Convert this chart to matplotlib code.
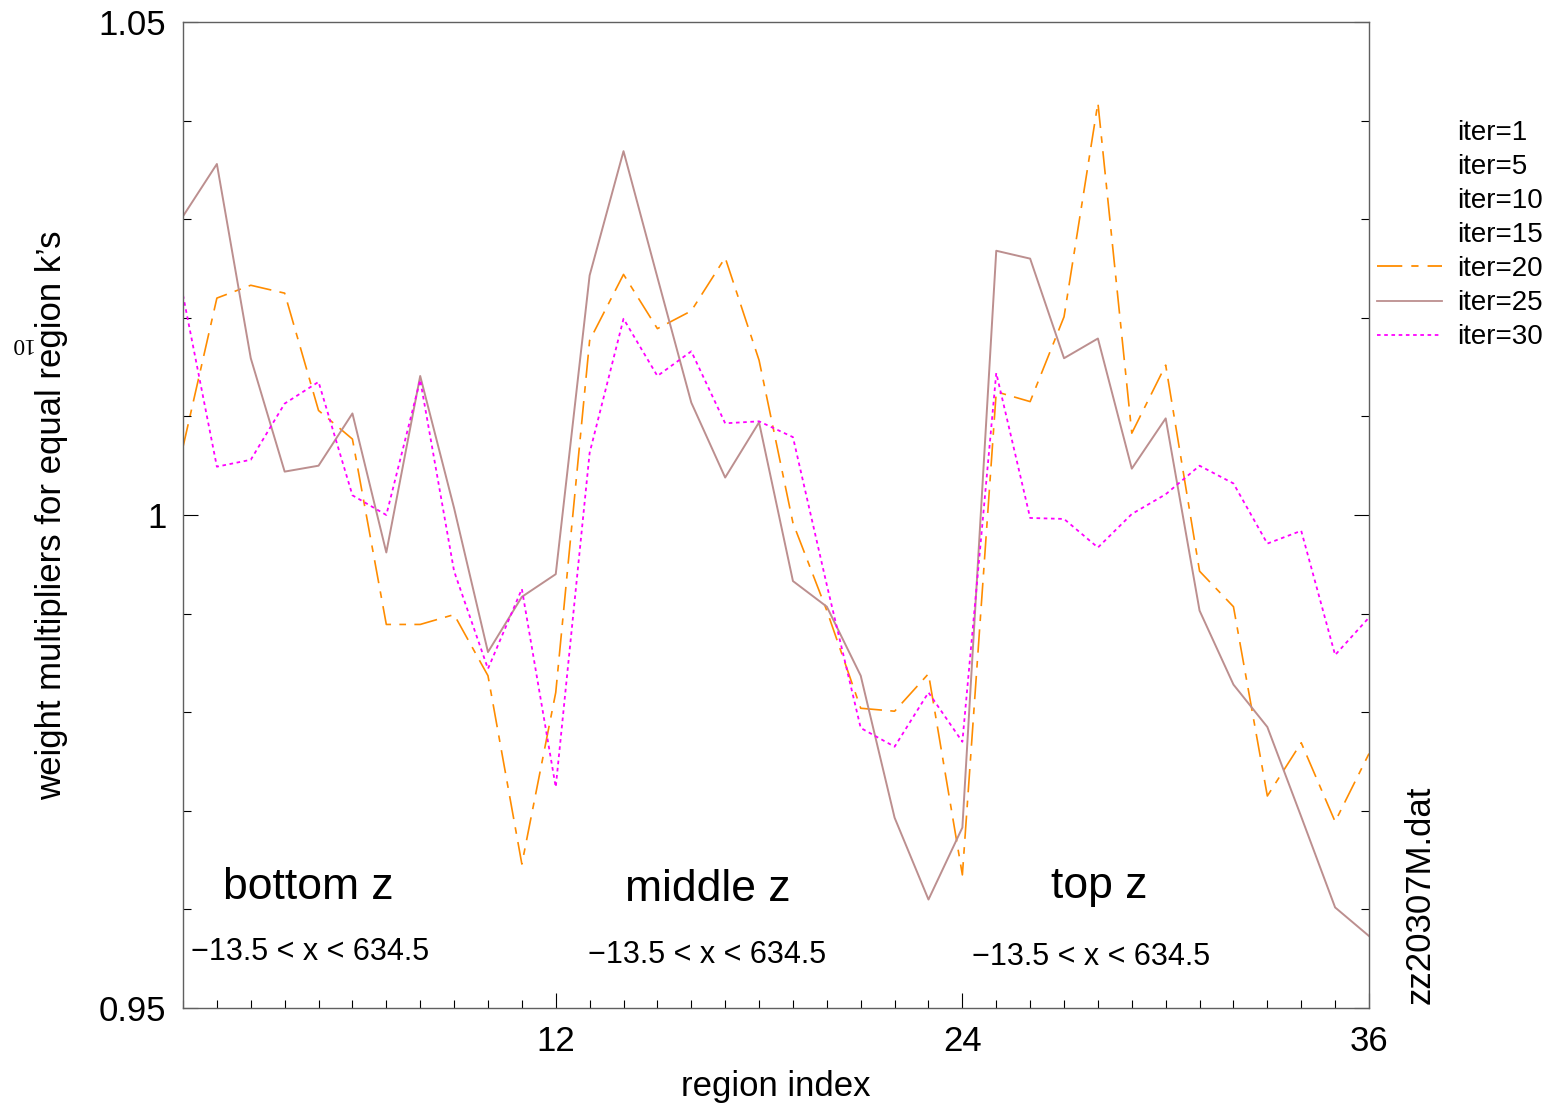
#!/usr/bin/env python3
import matplotlib
matplotlib.use("Agg")
import matplotlib.pyplot as plt
from matplotlib.lines import Line2D as line
from matplotlib.ticker import MultipleLocator, FixedLocator

# region index 1..36 (bottom z / middle z / top z, 12 regions each)
region = list(range(1, 37))

iter20 = [1.0069, 1.0220, 1.0233, 1.0225, 1.0106, 1.0077, 0.9889, 0.9889, 0.9899, 0.9837,
          0.9646, 0.9820, 1.0177, 1.0244, 1.0189, 1.0207, 1.0261, 1.0157, 0.9992, 0.9903,
          0.9804, 0.9801, 0.9839, 0.9635, 1.0125, 1.0115, 1.0201, 1.0418, 1.0083, 1.0152,
          0.9943, 0.9907, 0.9715, 0.9769, 0.9689, 0.9758]

iter25 = [1.0303, 1.0356, 1.0159, 1.0044, 1.0050, 1.0103, 0.9962, 1.0141, 1.0007, 0.9861,
          0.9917, 0.9940, 1.0243, 1.0369, 1.0241, 1.0114, 1.0038, 1.0094, 0.9933, 0.9907,
          0.9837, 0.9693, 0.9610, 0.9683, 1.0268, 1.0260, 1.0159, 1.0179, 1.0047, 1.0098,
          0.9903, 0.9828, 0.9785, 0.9694, 0.9602, 0.9573]

iter30 = [1.0223, 1.0049, 1.0056, 1.0113, 1.0135, 1.0020, 1.0000, 1.0137, 0.9943, 0.9844,
          0.9925, 0.9724, 1.0063, 1.0199, 1.0141, 1.0166, 1.0093, 1.0095, 1.0079, 0.9929,
          0.9784, 0.9765, 0.9820, 0.9770, 1.0144, 0.9997, 0.9996, 0.9967, 1.0001, 1.0021,
          1.0050, 1.0032, 0.9971, 0.9984, 0.9858, 0.9896]

legend_labels = ["iter=1", "iter=5", "iter=10", "iter=15", "iter=20", "iter=25", "iter=30"]

zone_names = ["bottom z", "middle z", "top z"]
zone_x = [4.7, 16.5, 28.05]
zone_y = [0.9622, 0.9620, 0.9623]
range_text = "\u221213.5 < x < 634.5"
range_x = [4.76, 16.46, 27.8]
range_y = [0.9557, 0.9554, 0.9552]


def main():
	plt.rcParams['font.family'] = ['Liberation Sans', 'DejaVu Sans']

	fig = plt.figure(figsize=(15.5, 11.07), dpi=100)
	ax = fig.add_axes([183/1550, 1-1008/1107, (1369-183)/1550, (1008-22)/1107])

	# de tre kurvene som faktisk er synlige
	ax.plot(region, iter20, color='#ff8c00', lw=1.2, linestyle=(0, (14, 5, 4, 5)))
	ax.plot(region, iter25, color='#bc8f8f', lw=1.4, linestyle='-')
	ax.plot(region, iter30, color='#ff00ff', lw=1.3, linestyle=(0, (2, 2)))

	ax.set_xlim(1, 36)
	ax.set_ylim(0.95, 1.05)

	ax.xaxis.set_major_locator(FixedLocator([12, 24, 36]))
	ax.xaxis.set_minor_locator(MultipleLocator(1))
	ax.yaxis.set_major_locator(FixedLocator([0.95, 1.0, 1.05]))
	ax.yaxis.set_minor_locator(MultipleLocator(0.01))
	ax.set_yticklabels(["0.95", "1", "1.05"])

	ax.tick_params(axis='both', which='both', direction='in', color='black', width=0.8)
	ax.tick_params(axis='both', which='major', length=11, labelsize=25, pad=12)
	ax.tick_params(axis='both', which='minor', length=6)
	ax.tick_params(axis='y', which='both', right=True)
	ax.tick_params(axis='x', which='both', top=False)

	for s in ax.spines.values():
		s.set_color('#606060')
		s.set_linewidth(1.0)

	ax.set_xlabel("region index", fontsize=25, labelpad=9)
	ax.set_ylabel("weight multipliers for equal region k\u2019s", fontsize=25, labelpad=22)
	# den rare "10"-en ved y-aksen, opp ned
	fig.text(20/1550, 1-344/1107, "10", rotation=180, fontsize=17, family='Liberation Serif',
		ha='center', va='center')

	for name, x, y in zip(zone_names, zone_x, zone_y):
		ax.text(x, y, name, fontsize=32, ha='center', va='center')
	for x, y in zip(range_x, range_y):
		ax.text(x, y, range_text, fontsize=22, ha='center', va='center')

	fig.text(1420/1550, 1-895/1107, "zz20307M.dat", rotation=90, fontsize=25,
		ha='center', va='center')

	styles = [('none', '-')] * 4 + [('#ff8c00', (0, (14, 5, 4, 5))), ('#bc8f8f', '-'),
		('#ff00ff', (0, (2, 2)))]
	handles = []
	for (c, ls), lab in zip(styles, legend_labels):
		handles.append(line([0], [0], color=c, linestyle=ls, lw=1.3, label=lab))
	ax.legend(handles=handles, loc='upper left', bbox_to_anchor=(1377/1550, 1-120/1107),
		bbox_transform=fig.transFigure, frameon=False, fontsize=20, borderpad=0,
		handlelength=2.35, handletextpad=0.55, labelspacing=0.29, borderaxespad=0)

	fig.savefig("out.png", dpi=100)


if __name__ == "__main__":
	main()
